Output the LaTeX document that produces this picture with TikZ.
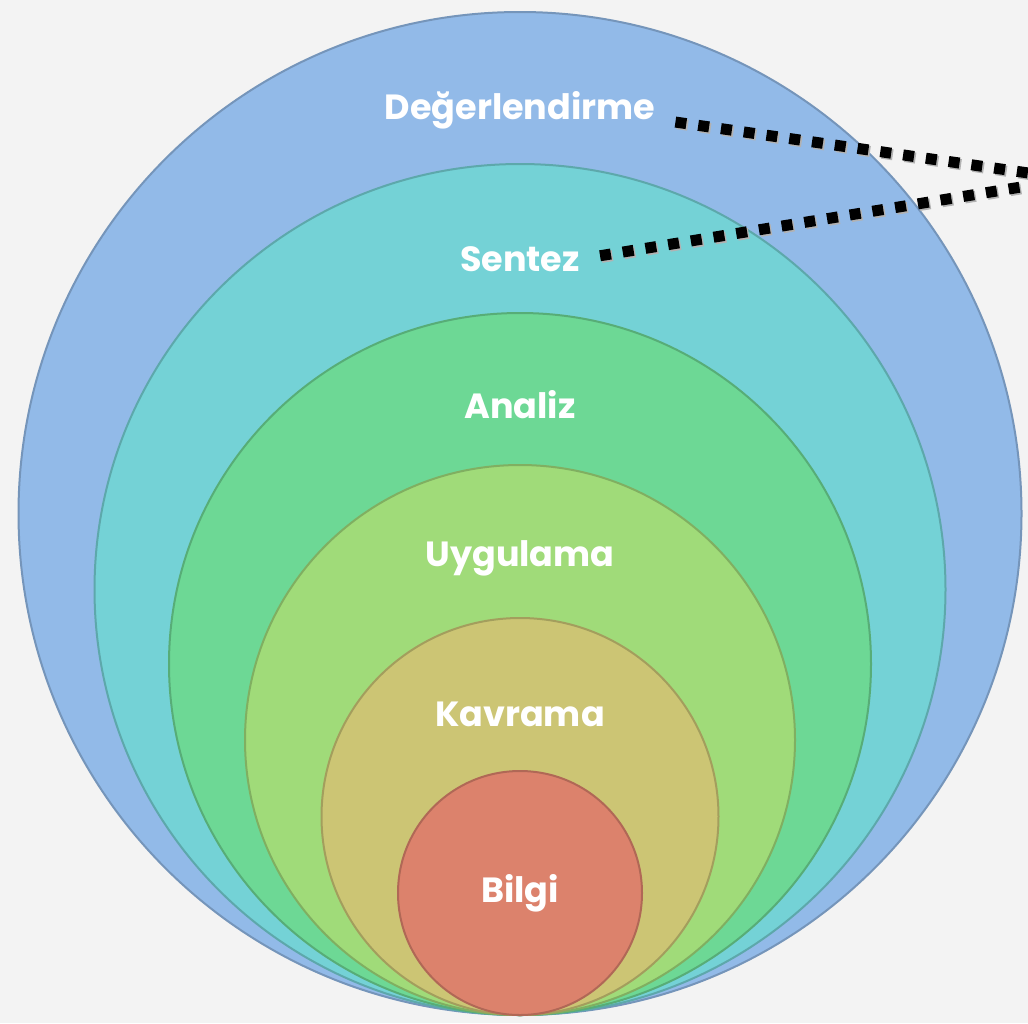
\documentclass[tikz,border=0pt]{standalone}
\usepackage{fontspec}
\setmainfont{Poppins}
\usepackage{tikz}
\usetikzlibrary{positioning}
\usetikzlibrary{shapes,calc,backgrounds}
\usepackage{xcolor}
\definecolor{bgGray}{HTML}{F3F3F3}
\definecolor{cDeg}{HTML}{92BAE8}
\definecolor{cSen}{HTML}{74D2D6}
\definecolor{cAna}{HTML}{6DD895}
\definecolor{cUyg}{HTML}{A0DB79}
\definecolor{cKav}{HTML}{CCC574}
\definecolor{cBil}{HTML}{DC826C}
\tikzset{
  ring/.style   = {circle, inner sep=0pt, anchor=south, fill=#1,
                   draw=#1!80!black, line width=1pt},
  label/.style  = {text=white, font=\bfseries\fontsize{17.5}{21}\selectfont,
                   inner sep=0pt},
  dots/.style   = {line width=5.5pt, dash pattern=on 5.5pt off 6pt,
                   shorten <=10pt,
                   preaction={draw=black!30, line width=5.5pt,
                              dash pattern=on 5.5pt off 6pt, shorten <=10pt,
                              transform canvas={shift={(0.8pt,-0.8pt)}}}}
}

\begin{document}
\begin{tikzpicture}[x=0.5pt, y=-0.5pt]
\useasboundingbox (0,0) rectangle (1028,1023);
\fill[bgGray] (0,0) rectangle (1028,1023);
\clip (0,0) rectangle (1028,1023);

\coordinate (bot) at (520,1016);
\coordinate (meet) at (1070,179);

\node[ring=cDeg, minimum size=501.5pt] (deg) at (bot) {};
\node[label] (lDeg) at ([yshift=-49.5pt]deg.north) {Değerlendirme};
\node[ring=cSen, minimum size=425.5pt] (sen) at (bot) {};
\node[label] (lSen) at ([yshift=-48pt]sen.north) {Sentez};
\node[ring=cAna, minimum size=351pt] (ana) at (bot) {};
\node[label] (lAna) at ([yshift=-46.5pt]ana.north) {Analiz};
\node[ring=cUyg, minimum size=275pt] (uyg) at (bot) {};
\node[label] (lUyg) at ([yshift=-47pt]uyg.north) {Uygulama};
\node[ring=cKav, minimum size=198.5pt] (kav) at (bot) {};
\node[label] (lKav) at ([yshift=-48.5pt]kav.north) {Kavrama};
\node[ring=cBil, minimum size=122pt] (bil) at (bot) {};
\node[label] (lBil) at (bil.center) {Bilgi};

\draw[dots] (lDeg.base east) -- (meet);
\draw[dots] (lSen.east) -- (meet);

\end{tikzpicture}
\end{document}
